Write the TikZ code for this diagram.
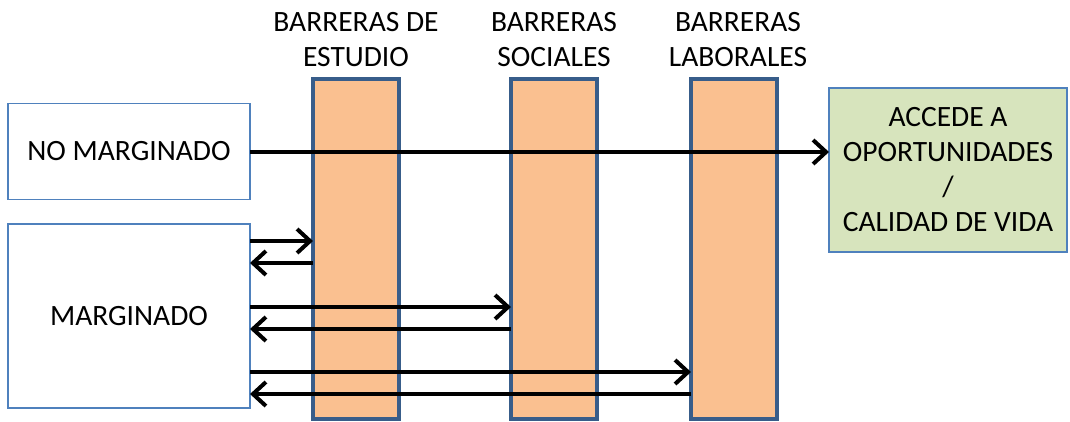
\documentclass[tikz,border=0pt]{standalone}
\usepackage{fontspec}
\setmainfont{Carlito}
\usetikzlibrary{arrows.meta}
\definecolor{barfill}{RGB}{250,192,144}
\definecolor{barline}{RGB}{56,93,138}
\definecolor{boxline}{RGB}{79,129,189}
\definecolor{greenfill}{RGB}{215,228,189}
\begin{document}
\begin{tikzpicture}[x=1pt,y=-1pt,
  every node/.style={font=\fontsize{29.5}{35}\selectfont, inner sep=0pt, outer sep=0pt},
  bar/.style={draw=barline, line width=3.5pt, fill=barfill, minimum width=86pt, minimum height=340pt},
  sidebox/.style={draw=boxline, line width=1.4pt, fill=white, minimum width=242pt},
  arr/.style={line width=4pt, -{Straight Barb[length=13pt,width=24pt]}},
  hdr/.style={align=center}
]
\useasboundingbox (0,0) rectangle (1070,421);
% bars
\node[bar] (bar1) at (356,249) {};
\node[bar] (bar2) at (554,249) {};
\node[bar] (bar3) at (734,249) {};
% headers
\node[hdr] (h1) at (356,40) {BARRERAS DE\\ESTUDIO};
\node[hdr] (h2) at (554,40) {BARRERAS\\SOCIALES};
\node[hdr] (h3) at (738,40) {BARRERAS\\LABORALES};
% boxes
\node[sidebox, minimum height=96pt] (nomarg) at (129,151.5) {NO MARGINADO};
\node[sidebox, minimum height=184pt] (marg) at (129,316) {MARGINADO};
\node[draw=boxline, line width=1.4pt, fill=greenfill, minimum width=238pt, minimum height=164pt, align=center] (acc) at (948,170) {ACCEDE A\\OPORTUNIDADES\\/\\CALIDAD DE VIDA};
% y levels
\coordinate (y0) at (0,152);
\coordinate (y1) at (0,241);
\coordinate (y2) at (0,263);
\coordinate (y3) at (0,307);
\coordinate (y4) at (0,329);
\coordinate (y5) at (0,372);
\coordinate (y6) at (0,394);
% arrows
\draw[arr] (nomarg.east |- y0) -- (acc.west |- y0);
\draw[arr] (marg.east |- y1) -- (bar1.west |- y1);
\draw[arr] (bar1.west |- y2) -- (marg.east |- y2);
\draw[arr] (marg.east |- y3) -- (bar2.west |- y3);
\draw[arr] (bar2.west |- y4) -- (marg.east |- y4);
\draw[arr] (marg.east |- y5) -- (bar3.west |- y5);
\draw[arr] (bar3.west |- y6) -- (marg.east |- y6);
\end{tikzpicture}
\end{document}
